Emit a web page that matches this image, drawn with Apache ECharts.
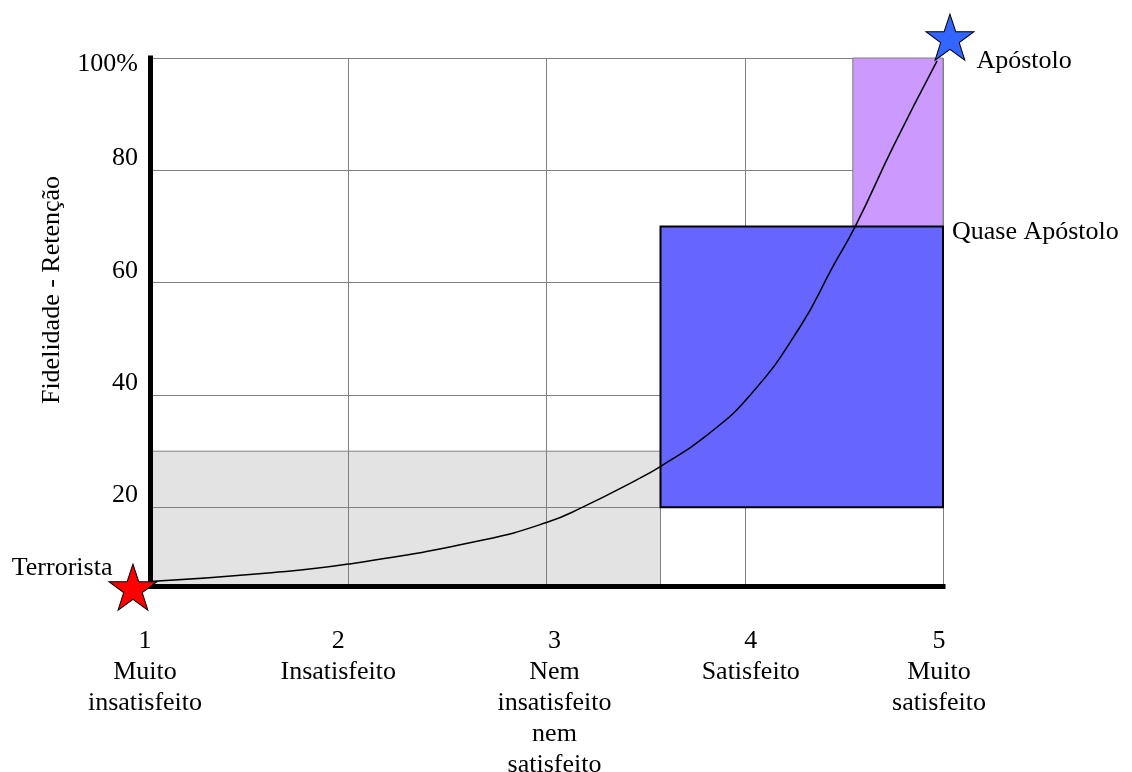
<!DOCTYPE html>
<html>
<head>
<meta charset="utf-8">
<script src="https://cdn.jsdelivr.net/npm/echarts@6/dist/echarts.min.js"></script>
<style>
  html, body { margin: 0; padding: 0; background: #ffffff; }
  #chart { width: 1132px; height: 772px; }
</style>
</head>
<body>
<div id="chart"></div>
<script>
// ---------- data ----------
const xTicks = [1, 2, 3, 4, 5];
const xLabels = ['Muito\ninsatisfeito', 'Insatisfeito', 'Nem\ninsatisfeito\nnem\nsatisfeito', 'Satisfeito', 'Muito\nsatisfeito'];
const yTitle = 'Fidelidade - Retenção';
const yMin = 6;
const yMax = 100;

// loyalty curve (satisfaction, retention %)
const curveX = [1.0, 1.55, 2.0, 2.68, 3.0, 3.18, 3.455, 3.58, 3.8, 4.03, 4.28, 4.445, 4.56, 4.75, 4.97];
const curveY = [6.8, 8.2, 9.9, 14.2, 17.3, 20.0, 24.9, 27.4, 32.6, 40.1, 52.2, 62.9, 70.2, 84.3, 99.5];

// zones: [x0, x1, y0, y1]
const grayZone = [1, 3.575, 6, 30];
const purpleZone = [4.545, 5, 70, 100];
const blueZone = [3.575, 5, 20, 70];
const blueZoneName = 'Quase Apóstolo';

// stars
const starNames = ['Terrorista', 'Apóstolo'];
const starX = [0.914, 5.035];
const starY = [5.8, 103.7];

// ---------- styling ----------
const FONT = 'Liberation Serif';
const FS = 26;
const xLabelShift = [-5, -10, 8, 6, -4];
const starPath = 'path://M50,0 L61.8,35.1 L98.9,35.1 L68.9,56.9 L80.3,92.1 L50,70.4 L19.7,92.1 L31.1,56.9 L1.1,35.1 L38.2,35.1 Z';

const xRich = {};
xTicks.forEach(function (t, i) {
  const s = xLabelShift[i];
  xRich['k' + i] = {
    fontFamily: FONT, fontSize: FS, lineHeight: 31, color: '#000',
    padding: s < 0 ? [0, -2 * s, 0, 0] : [0, 0, 0, 2 * s]
  };
});

function rectItem(params, api, fill, stroke, lw, name) {
  const p0 = api.coord([api.value(0), api.value(3)]);
  const p1 = api.coord([api.value(1), api.value(2)]);
  const children = [{
    type: 'rect',
    shape: { x: p0[0], y: p0[1], width: p1[0] - p0[0], height: p1[1] - p0[1] },
    style: { fill: fill, stroke: stroke, lineWidth: lw }
  }];
  if (name) {
    children.push({
      type: 'text',
      x: p1[0] + 9, y: p0[1] + 6,
      style: { text: name, fontFamily: FONT, fontSize: FS, fill: '#000', align: 'left', verticalAlign: 'middle' }
    });
  }
  return { type: 'group', children: children };
}

const starLabel = { show: true, formatter: '{b}', fontFamily: FONT, fontSize: FS, color: '#000', opacity: 1, textBorderWidth: 0 };

const chart = echarts.init(document.getElementById('chart'), null, { renderer: 'canvas' });
chart.setOption({
  animation: false,
  backgroundColor: '#ffffff',
  grid: { left: 150, right: 189, top: 58, bottom: 186, containLabel: false, outerBoundsMode: 'none' },
  xAxis: {
    type: 'value', min: 1, max: 5, interval: 1,
    axisLine: { show: true, lineStyle: { color: '#000', width: 5, cap: 'square' } },
    axisTick: { show: false },
    splitLine: { show: true, lineStyle: { color: '#808080', width: 1 } },
    axisLabel: {
      margin: 40,
      formatter: function (v) {
        const i = xTicks.indexOf(Math.round(v));
        if (i < 0) return '';
        const lines = (String(xTicks[i]) + '\n' + xLabels[i]).split('\n');
        return lines.map(function (l) { return '{k' + i + '|' + l + '}'; }).join('\n');
      },
      rich: xRich
    }
  },
  yAxis: {
    type: 'value', min: yMin, max: yMax,
    axisLine: { show: true, lineStyle: { color: '#000', width: 5, cap: 'square' } },
    axisTick: { show: false },
    splitLine: { show: true, lineStyle: { color: '#808080', width: 1 } },
    axisLabel: {
      margin: 12,
      showMinLabel: false,
      formatter: function (v) {
        if (v === yMin) return '';
        if (v === 100) return '{top|100%}';
        return '{n|' + v + '}';
      },
      rich: {
        top: { fontFamily: FONT, fontSize: FS, color: '#000', lineHeight: 31, padding: [12, 0, 0, 0] },
        n: { fontFamily: FONT, fontSize: FS, color: '#000', lineHeight: 31, padding: [0, 0, 24, 0] }
      }
    }
  },
  graphic: [{
    type: 'text', x: 52, y: 290, rotation: Math.PI / 2,
    style: { text: yTitle, fontFamily: FONT, fontSize: FS, fill: '#000', align: 'center', verticalAlign: 'middle' }
  }],
  series: [
    {
      type: 'custom', z: -1, clip: false,
      renderItem: function (params, api) { return rectItem(params, api, '#e3e3e3', '#808080', 1); },
      data: [grayZone]
    },
    {
      type: 'custom', z: 3, clip: false,
      renderItem: function (params, api) { return rectItem(params, api, '#cc99ff', '#808080', 1); },
      data: [purpleZone]
    },
    {
      type: 'custom', z: 4, clip: false,
      renderItem: function (params, api) { return rectItem(params, api, '#6666ff', '#000000', 2, blueZoneName); },
      data: [blueZone]
    },
    {
      type: 'line', z: 5, smooth: 0.5, showSymbol: false, clip: false,
      lineStyle: { color: '#000', width: 1.5 },
      data: curveX.map(function (x, i) { return [x, curveY[i]]; })
    },
    {
      type: 'scatter', z: 6, clip: false,
      symbol: starPath, symbolSize: [48, 46],
      itemStyle: { borderColor: '#000', borderWidth: 1, opacity: 1 },
      data: [
        { name: starNames[0], value: [starX[0], starY[0]], itemStyle: { color: '#ff0000', opacity: 1 },
          label: Object.assign({}, starLabel, { position: 'left', distance: 0, offset: [4, -19] }) },
        { name: starNames[1], value: [starX[1], starY[1]], itemStyle: { color: '#3366ff', opacity: 1 },
          label: Object.assign({}, starLabel, { position: 'right', distance: 2, offset: [0, 24] }) }
      ]
    }
  ]
});
</script>
</body>
</html>
